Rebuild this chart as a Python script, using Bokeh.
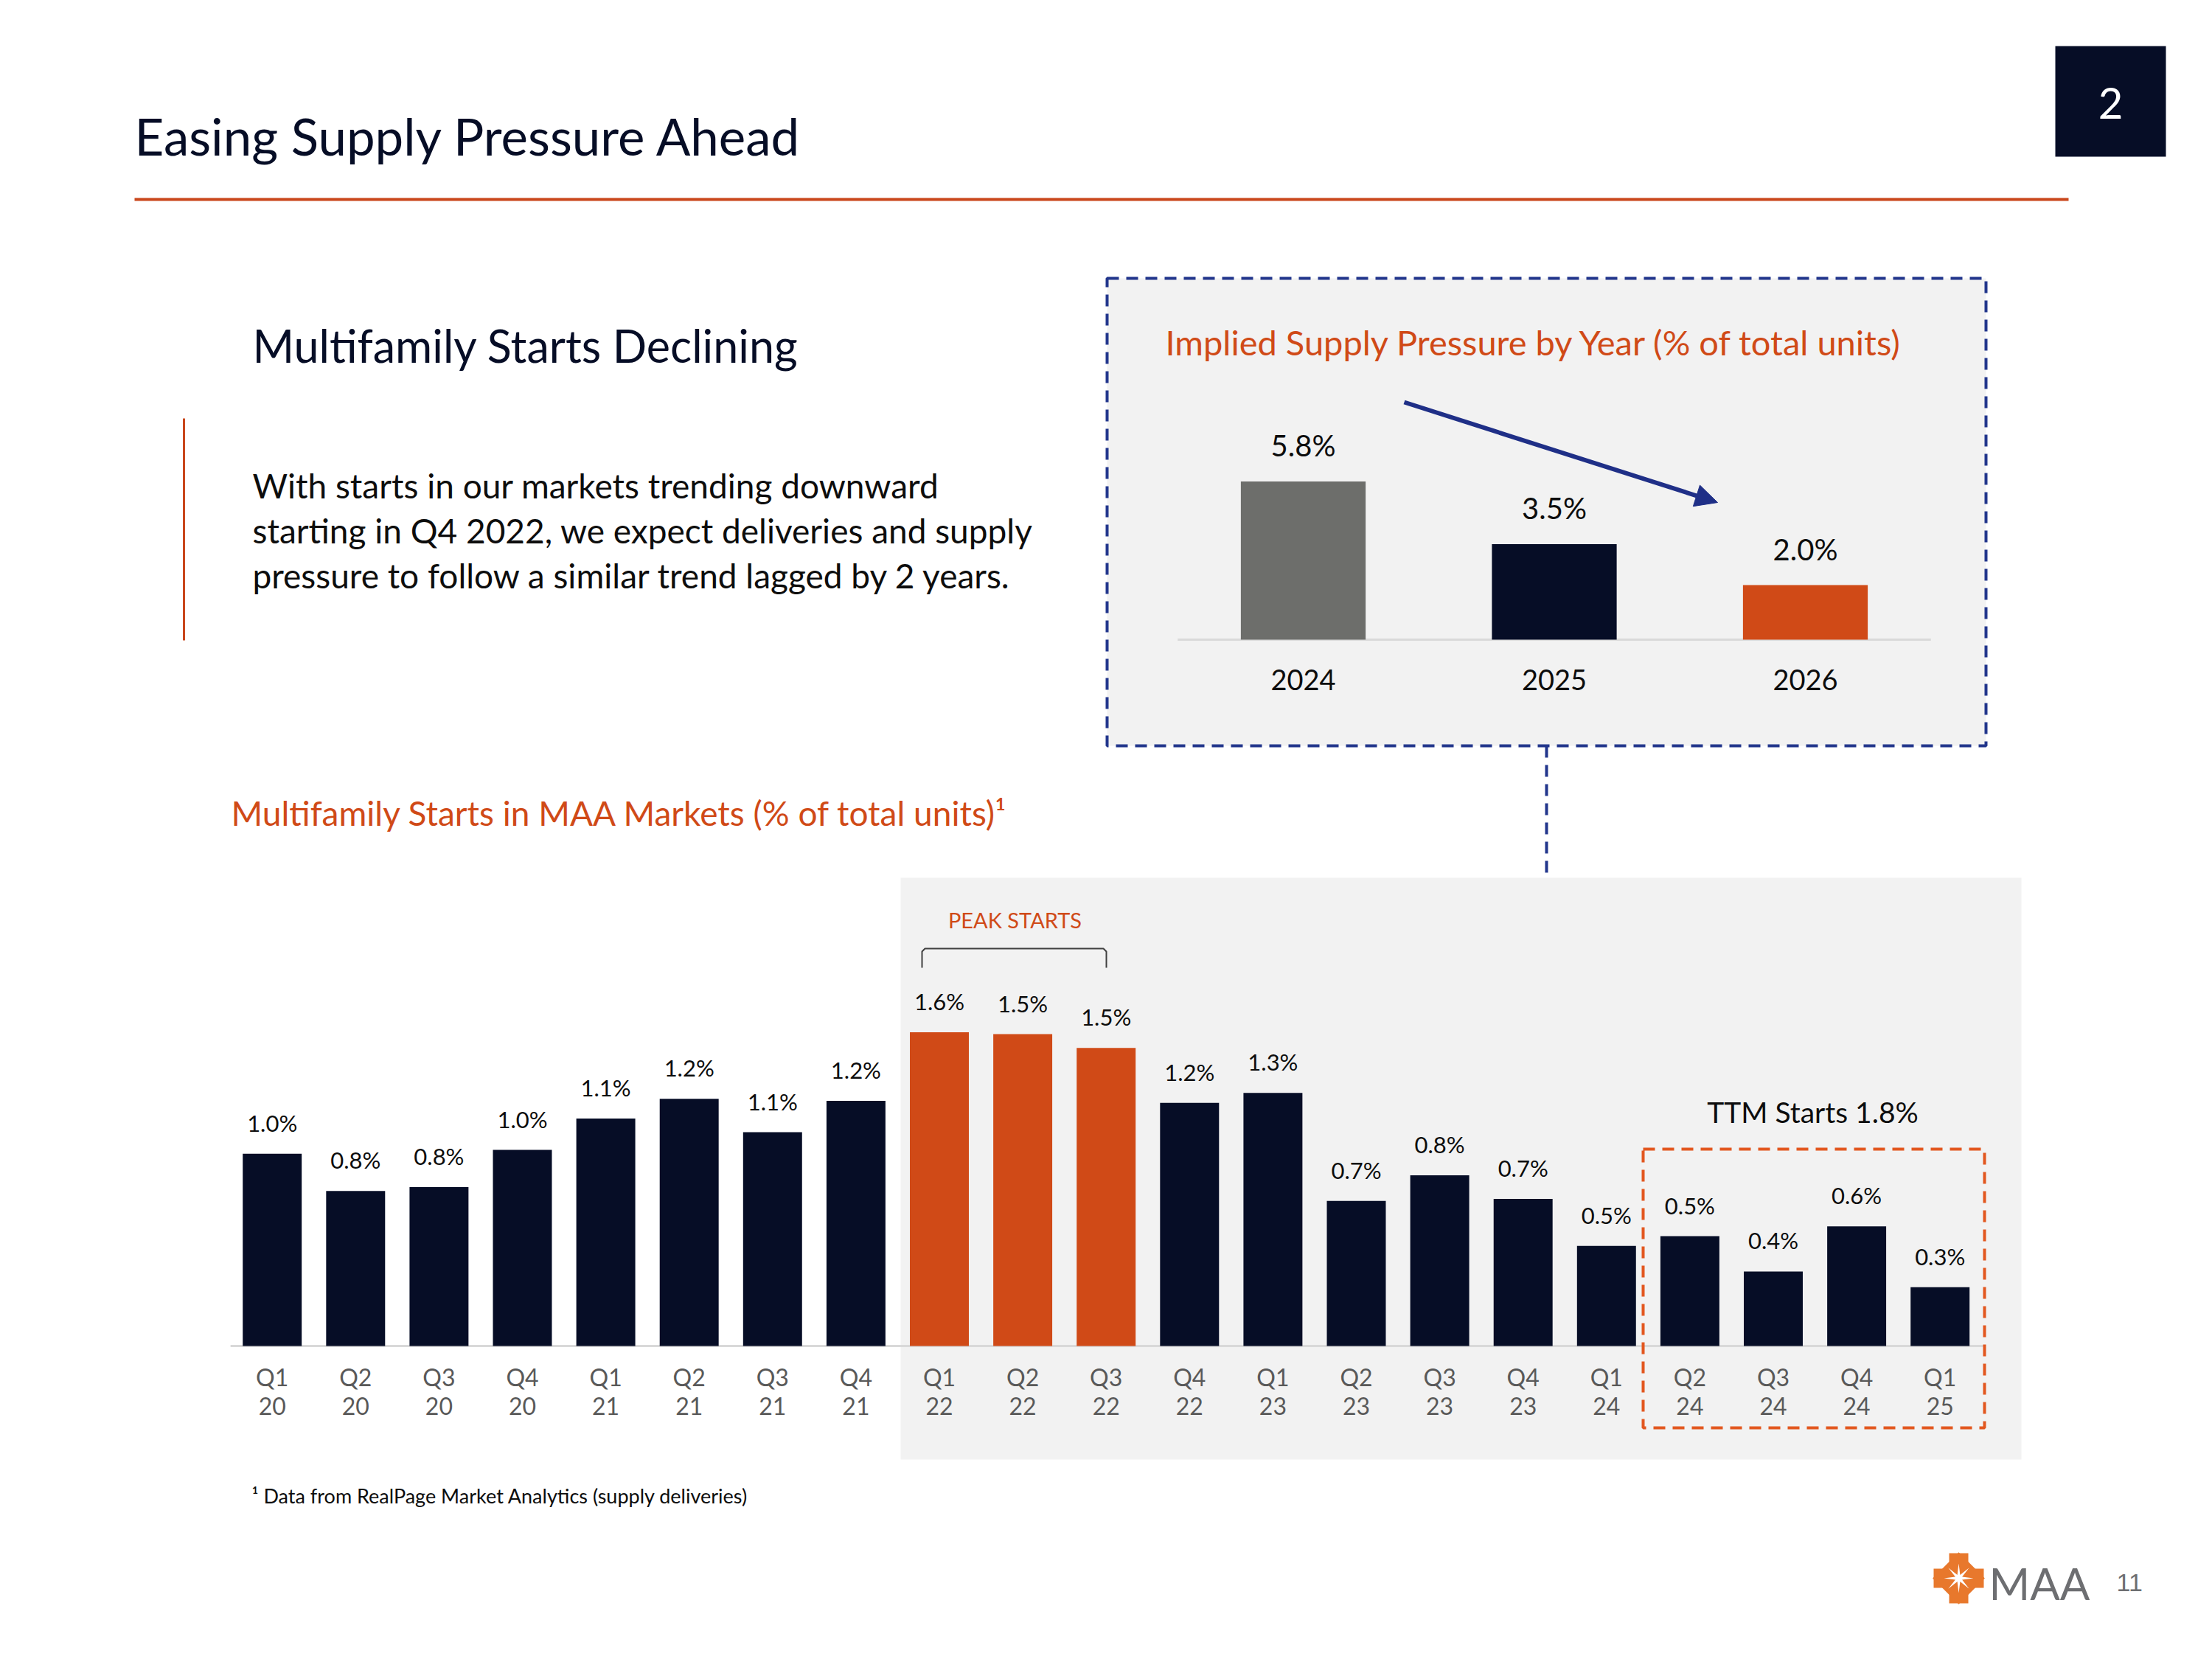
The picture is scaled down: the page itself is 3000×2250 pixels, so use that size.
import numpy as np
from bokeh.plotting import figure
from bokeh.models import Range1d, ColumnDataSource, Arrow, NormalHead
from bokeh.core.properties import value
from bokeh.embed import file_html
from bokeh.resources import INLINE

# ---------------- data ----------------
quarters = ["Q1 20", "Q2 20", "Q3 20", "Q4 20", "Q1 21", "Q2 21", "Q3 21", "Q4 21",
            "Q1 22", "Q2 22", "Q3 22", "Q4 22", "Q1 23", "Q2 23", "Q3 23", "Q4 23",
            "Q1 24", "Q2 24", "Q3 24", "Q4 24", "Q1 25"]
starts_pct = [0.98, 0.79, 0.81, 1.00, 1.16, 1.26, 1.09, 1.25,
              1.60, 1.59, 1.52, 1.24, 1.29, 0.74, 0.87, 0.75,
              0.51, 0.56, 0.38, 0.61, 0.30]
starts_labels = ["1.0%", "0.8%", "0.8%", "1.0%", "1.1%", "1.2%", "1.1%", "1.2%",
                 "1.6%", "1.5%", "1.5%", "1.2%", "1.3%", "0.7%", "0.8%", "0.7%",
                 "0.5%", "0.5%", "0.4%", "0.6%", "0.3%"]
peak_quarters = ["Q1 22", "Q2 22", "Q3 22"]
ttm_quarters = ["Q2 24", "Q3 24", "Q4 24", "Q1 25"]

years = ["2024", "2025", "2026"]
supply_pct = [5.8, 3.5, 2.0]
supply_labels = ["5.8%", "3.5%", "2.0%"]

page_title = "Easing Supply Pressure Ahead"
section_number = "2"
section_title = "Multifamily Starts Declining"
body_lines = ["With starts in our markets trending downward",
              "starting in Q4 2022, we expect deliveries and supply",
              "pressure to follow a similar trend lagged by 2 years."]
inset_title = "Implied Supply Pressure by Year (% of total units)"
main_title = "Multifamily Starts in MAA Markets (% of total units)\u00b9"
peak_text = "PEAK STARTS"
ttm_text = "TTM Starts 1.8%"
footnote = "\u00b9 Data from RealPage Market Analytics (supply deliveries)"
logo_text = "MAA"
page_number = "11"

# ---------------- styling ----------------
W, H = 2984, 2234
FONT = "Lato"
NAVY = "#060D26"
ORANGE = "#D04A17"
RULE = "#C9471C"
GREY_BAR = "#6D6E6B"
PANEL = "#F2F2F2"
DASH_BLUE = "#22368C"
ARROW_BLUE = "#1F2F87"
DASH_ORANGE = "#E2571F"
AXIS_GREY = "#D9D9D9"
TICK_GREY = "#595959"
LOGO_GREY = "#6D6E71"
LOGO_ORANGE = "#E8782C"

p = figure(width=W, height=H, x_range=Range1d(0, W), y_range=Range1d(H, 0),
           output_backend="svg", toolbar_location=None, min_border=0,
           x_axis_type=None, y_axis_type=None, title=None,
           background_fill_color="white", border_fill_color="white")
p.outline_line_color = None


def x_map(px0, step):
    return Range1d((0 - px0) / step, (W - px0) / step)


def y_map(base, ppu):
    return Range1d((base - H) / ppu, (base - 0) / ppu)


p.extra_x_ranges = {"mx": x_map(368.7, 113.1), "ix": x_map(1767.0, 340.5)}
p.extra_y_ranges = {"my": y_map(1825.0, 266.0), "iy": y_map(867.0, 37.0)}


def txt(x, y, s, size, color, align="left", font=FONT, style="normal"):
    p.text(x=[x], y=[y], text=[s], text_font=value(font), text_font_size=value(f"{size}px"),
           text_color=color, text_align=align, text_baseline="alphabetic",
           text_font_style=style)


# ---------------- header ----------------
txt(182, 184, page_title, 69, NAVY)
p.line(x=[182, 2805], y=[270, 270], line_color=RULE, line_width=4)
p.quad(left=[2787], right=[2937], top=[62], bottom=[212], fill_color=NAVY, line_color=None)
txt(2862, 139, section_number, 58, "white", align="center")

# ---------------- left text block ----------------
txt(342, 468, section_title, 61, NAVY)
p.line(x=[249, 249], y=[567, 868], line_color=RULE, line_width=3)
for k, line in enumerate(body_lines):
    txt(342, 658 + 61 * k, line, 46, "#0D0D0D")

# ---------------- inset chart ----------------
p.quad(left=[1501], right=[2693], top=[377], bottom=[1011], fill_color=PANEL,
       line_color=DASH_BLUE, line_width=4, line_dash="16 10")
p.line(x=[2097, 2097], y=[1011, 1190], line_color=DASH_BLUE, line_width=4, line_dash="16 10")
txt(1580, 463, inset_title, 47, ORANGE)

iidx = np.arange(len(years))
isrc = ColumnDataSource(dict(x=iidx, top=supply_pct, label=supply_labels, cat=years,
                             color=[GREY_BAR, NAVY, ORANGE]))
p.segment(x0=[-0.5], x1=[len(years) - 0.5], y0=[0], y1=[0], line_color=AXIS_GREY,
          line_width=3, x_range_name="ix", y_range_name="iy")
p.vbar(x="x", top="top", bottom=0, width=0.497, fill_color="color", line_color=None,
       source=isrc, x_range_name="ix", y_range_name="iy")
p.text(x="x", y="top", text="label", source=isrc, x_range_name="ix", y_range_name="iy",
       y_offset=-49, text_align="center", text_baseline="alphabetic",
       text_font=value(FONT), text_font_size=value("40px"), text_color="#0D0D0D")
p.text(x="x", y=0, text="cat", source=isrc, x_range_name="ix", y_range_name="iy",
       y_offset=54, text_align="center", text_baseline="alphabetic",
       text_font=value(FONT), text_font_size=value("38px"), text_color="#0D0D0D")
p.add_layout(Arrow(end=NormalHead(size=30, fill_color=ARROW_BLUE, line_color=ARROW_BLUE),
                   x_start=1904, y_start=545, x_end=2329, y_end=681,
                   line_color=ARROW_BLUE, line_width=6))

# ---------------- main chart ----------------
txt(313, 1102, main_title, 46, ORANGE)
p.quad(left=[1221], right=[2741], top=[1190], bottom=[1979], fill_color=PANEL, line_color=None)

idx = np.arange(len(quarters))
msrc = ColumnDataSource(dict(
    x=idx, top=starts_pct, label=starts_labels,
    q=[s.split()[0] for s in quarters], yr=[s.split()[1] for s in quarters],
    color=[ORANGE if s in peak_quarters else NAVY for s in quarters]))
p.segment(x0=[-0.5], x1=[len(quarters) - 0.48], y0=[0], y1=[0], line_color=AXIS_GREY,
          line_width=3, x_range_name="mx", y_range_name="my")
p.vbar(x="x", top="top", bottom=0, width=0.707, fill_color="color", line_color=None,
       source=msrc, x_range_name="mx", y_range_name="my")
p.text(x="x", y="top", text="label", source=msrc, x_range_name="mx", y_range_name="my",
       y_offset=-42, text_align="center", text_baseline="alphabetic",
       text_font=value(FONT), text_font_size=value("31px"), text_color="#0D0D0D")
p.text(x="x", y=0, text="q", source=msrc, x_range_name="mx", y_range_name="my",
       y_offset=42, text_align="center", text_baseline="alphabetic",
       text_font=value(FONT), text_font_size=value("32px"), text_color=TICK_GREY)
p.text(x="x", y=0, text="yr", source=msrc, x_range_name="mx", y_range_name="my",
       y_offset=81, text_align="center", text_baseline="alphabetic",
       text_font=value(FONT), text_font_size=value("32px"), text_color=TICK_GREY)

# peak bracket
p.line(x=[1250, 1250, 1254, 1496, 1500, 1500], y=[1312, 1290, 1286, 1286, 1290, 1312],
       line_color="#404040", line_width=2)
txt(1376, 1247, peak_text, 29, ORANGE, align="center")

# TTM box
p.quad(left=[2228], right=[2691], top=[1558], bottom=[1936], fill_color=None,
       line_color=DASH_ORANGE, line_width=4, line_dash="16 10")
txt(2458, 1507, ttm_text, 39, "#0D0D0D", align="center")

# footnote
txt(341, 2028, footnote, 27, "#0D0D0D")

# ---------------- logo ----------------
cx, cy = 2656, 2140
p.rect(x=[cx], y=[cy], width=68, height=26, fill_color=LOGO_ORANGE, line_color=None)
p.rect(x=[cx], y=[cy], width=26, height=68, fill_color=LOGO_ORANGE, line_color=None)
p.rect(x=[cx], y=[cy], width=50, height=50, angle=np.pi / 4, fill_color=LOGO_ORANGE, line_color=None)
ang = np.arange(16) * np.pi / 8
rad = np.where(np.arange(16) % 2 == 0, 20, 5)
p.patch(x=cx + rad * np.cos(ang), y=cy + rad * np.sin(ang), fill_color="white", line_color=None)
txt(2697, 2146, logo_text, 60, LOGO_GREY)
txt(2870, 2146, page_number, 34, LOGO_GREY, font="Liberation Sans")

open("out.html", "w").write(file_html(p, INLINE))
